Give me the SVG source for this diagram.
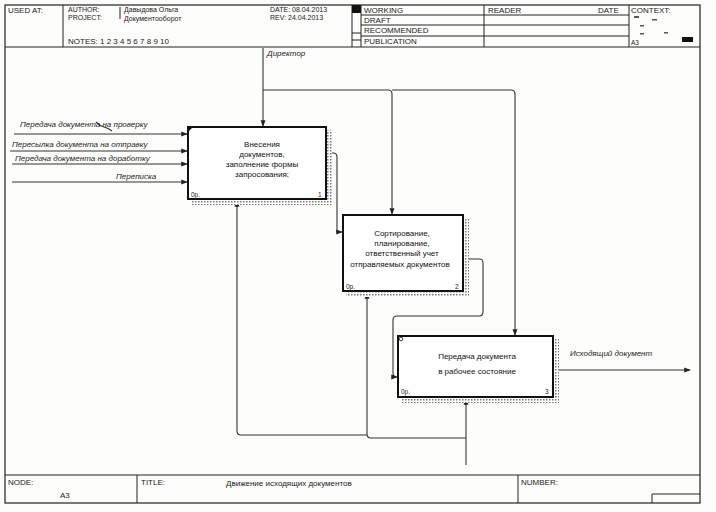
<svg xmlns="http://www.w3.org/2000/svg" width="716" height="512" viewBox="0 0 716 512">
<style>
.frame{fill:none;stroke:#222;stroke-width:1.2}
.hl{stroke:#222;stroke-width:1;fill:none}
.ht{font-family:"Liberation Sans",Arial,sans-serif;font-size:8px;fill:#222}
.hs{font-family:"Liberation Sans",Arial,sans-serif;font-size:7px;fill:#222}
.box{fill:#fff;stroke:#111;stroke-width:2}
.bt{font-family:"Liberation Sans",Arial,sans-serif;font-size:8px;fill:#111;text-anchor:middle}
.lbl{font-family:"Liberation Sans",Arial,sans-serif;font-size:8px;font-style:italic;fill:#222}
.con{fill:none;stroke:#333;stroke-width:1.1}
.sm{font-family:"Liberation Sans",Arial,sans-serif;font-size:6.5px;fill:#222}
</style>
<defs>
<marker id="ah" viewBox="0 0 8 8" refX="7" refY="4" markerWidth="6" markerHeight="6" orient="auto">
<path d="M0,1 L8,4 L0,7 z" fill="#222"/>
</marker>
<pattern id="hatch" width="3" height="3" patternUnits="userSpaceOnUse">
<rect width="3" height="3" fill="#fff"/>
<rect width="1.5" height="1.5" fill="#777"/>
</pattern>
</defs>
<rect width="716" height="512" fill="#fdfdfb"/>

<g id="frame">
<rect class="frame" x="5" y="5" width="695" height="498"/>
<line class="hl" x1="5" y1="47" x2="700" y2="47"/>
<line class="hl" x1="63" y1="5" x2="63" y2="47"/>
<line class="hl" x1="120" y1="7" x2="120" y2="19"/>
<line class="hl" x1="352" y1="5" x2="352" y2="47"/>
<rect x="352" y="5" width="9" height="8" fill="#111"/>
<line class="hl" x1="352" y1="33" x2="361" y2="33"/>
<line class="hl" x1="352" y1="40" x2="361" y2="40"/>
<line class="hl" x1="361" y1="5" x2="361" y2="47"/>
<line class="hl" x1="361" y1="15" x2="629" y2="15"/>
<line class="hl" x1="361" y1="25" x2="629" y2="25"/>
<line class="hl" x1="361" y1="36" x2="629" y2="36"/>
<line class="hl" x1="484" y1="5" x2="484" y2="47"/>
<line class="hl" x1="629" y1="5" x2="629" y2="47"/>
<text class="ht" x="8" y="13">USED AT:</text>
<text class="hs" x="68" y="12">AUTHOR:</text>
<text class="hs" x="68" y="20">PROJECT:</text>
<text class="hs" x="124" y="12">Давыдова Ольга</text>
<text class="hs" x="124" y="21">Документооборот</text>
<text class="ht" x="68" y="44">NOTES:  1  2  3  4  5  6  7  8  9  10</text>
<text class="hs" x="270" y="12">DATE:  08.04.2013</text>
<text class="hs" x="270" y="20">REV:    24.04.2013</text>
<text class="ht" x="364" y="13">WORKING</text>
<text class="ht" x="364" y="23">DRAFT</text>
<text class="ht" x="364" y="33">RECOMMENDED</text>
<text class="ht" x="364" y="44">PUBLICATION</text>
<text class="ht" x="488" y="13">READER</text>
<text class="ht" x="598" y="13">DATE</text>
<text class="ht" x="631" y="13">CONTEXT:</text>
<rect x="634" y="16" width="5" height="2" fill="#555"/>
<rect x="652" y="19" width="5" height="1.5" fill="#555"/>
<rect x="640" y="25" width="4" height="1.5" fill="#555"/>
<rect x="640" y="33" width="4" height="1.5" fill="#555"/>
<rect x="664" y="32" width="4" height="1.5" fill="#555"/>
<rect x="682" y="37" width="11" height="5" fill="#111"/>
<text class="sm" x="631" y="45">A3</text>
<line class="hl" x1="5" y1="475" x2="700" y2="475"/>
<line class="hl" x1="137" y1="475" x2="137" y2="503"/>
<line class="hl" x1="518" y1="475" x2="518" y2="503"/>
<polyline class="hl" points="652,503 652,494 700,494"/>
<text class="ht" x="8" y="485">NODE:</text>
<text class="ht" x="60" y="498">A3</text>
<text class="ht" x="141" y="485">TITLE:</text>
<text class="ht" x="226" y="486">Движение исходящих документов</text>
<text class="ht" x="521" y="485">NUMBER:</text>
</g>

<g id="connectors">
<!-- control -->
<path class="con" d="M263,48 V126" marker-end="url(#ah)"/>
<path class="con" d="M263,90 H388 Q392,90 392,94 V214" marker-end="url(#ah)"/>
<path class="con" d="M392,90 H511 Q515,90 515,94 V335" marker-end="url(#ah)"/>
<text class="lbl" x="267" y="56">Директор</text>
<!-- inputs -->
<path class="con" d="M14,134 H187" stroke="#888" marker-end="url(#ah)"/>
<path class="con" d="M96,122 Q100,126 104,127 Q108,128 112,131" stroke="#555"/>
<text class="lbl" x="20" y="127">Передача документа на проверку</text>
<path class="con" d="M10,151 H187" marker-end="url(#ah)"/>
<text class="lbl" x="12" y="147">Пересылка документа на отправку</text>
<path class="con" d="M12,164 H187" marker-end="url(#ah)"/>
<text class="lbl" x="15" y="161">Передача документа на доработку</text>
<path class="con" d="M12,182 H187" marker-end="url(#ah)"/>
<text class="lbl" x="116" y="179">Переписка</text>
<!-- box1 -> box2 -->
<path class="con" d="M326,153 H333 Q337,153 337,157 V232 H342" marker-end="url(#ah)"/>
<!-- box2 -> box3 -->
<path class="con" d="M463,259 H479 Q483,259 483,263 V312 Q483,316 479,316 H397 Q393,316 393,320 V373 Q393,377 397,377 H397" marker-end="url(#ah)"/>
<!-- box3 output -->
<path class="con" d="M553,370 H690" marker-end="url(#ah)"/>
<text class="lbl" x="570" y="356">Исходящий документ</text>
<!-- mechanisms -->
<path class="con" d="M466,465 V399" marker-end="url(#ah)"/>
<path class="con" d="M466,438 H371 Q367,438 367,434 V293" marker-end="url(#ah)"/>
<path class="con" d="M367,435 H241 Q237,435 237,431 V201" marker-end="url(#ah)"/>
</g>

<g id="box1">
<rect x="327" y="130" width="5" height="75" fill="url(#hatch)"/>
<rect x="191" y="200" width="141" height="5" fill="url(#hatch)"/>
<rect class="box" x="188" y="127" width="138" height="72"/>
<path d="M188,127 h5 l-5,5 z" fill="#111"/>
<text class="bt" x="262" y="147">Внесения</text>
<text class="bt" x="262" y="157">документов,</text>
<text class="bt" x="262" y="167">заполнение формы</text>
<text class="bt" x="262" y="177">запросования;</text>
<text class="sm" x="191" y="197">0р.</text>
<text class="sm" x="318" y="197">1</text>
</g>

<g id="box2">
<rect x="464" y="218" width="5" height="78" fill="url(#hatch)"/>
<rect x="346" y="292" width="123" height="5" fill="url(#hatch)"/>
<rect class="box" x="343" y="215" width="120" height="76"/>
<text class="bt" x="402" y="236">Сортирование,</text>
<text class="bt" x="402" y="246">планирование,</text>
<text class="bt" x="402" y="256">ответственный учет</text>
<text class="bt" x="400" y="267">отправляемых документов</text>
<text class="sm" x="346" y="289">0р.</text>
<text class="sm" x="455" y="289">2</text>
</g>

<g id="box3">
<rect x="554" y="339" width="5" height="63" fill="url(#hatch)"/>
<rect x="401" y="398" width="158" height="5" fill="url(#hatch)"/>
<rect class="box" x="398" y="336" width="155" height="61"/>
<circle cx="401" cy="339" r="1.8" fill="none" stroke="#111" stroke-width="0.8"/>
<text class="bt" x="477" y="359" font-size="8.5">Передача документа</text>
<text class="bt" x="477" y="374" font-size="8.5">в рабочее состояние</text>
<text class="sm" x="401" y="394">0р.</text>
<text class="sm" x="545" y="394">3</text>
</g>
</svg>
